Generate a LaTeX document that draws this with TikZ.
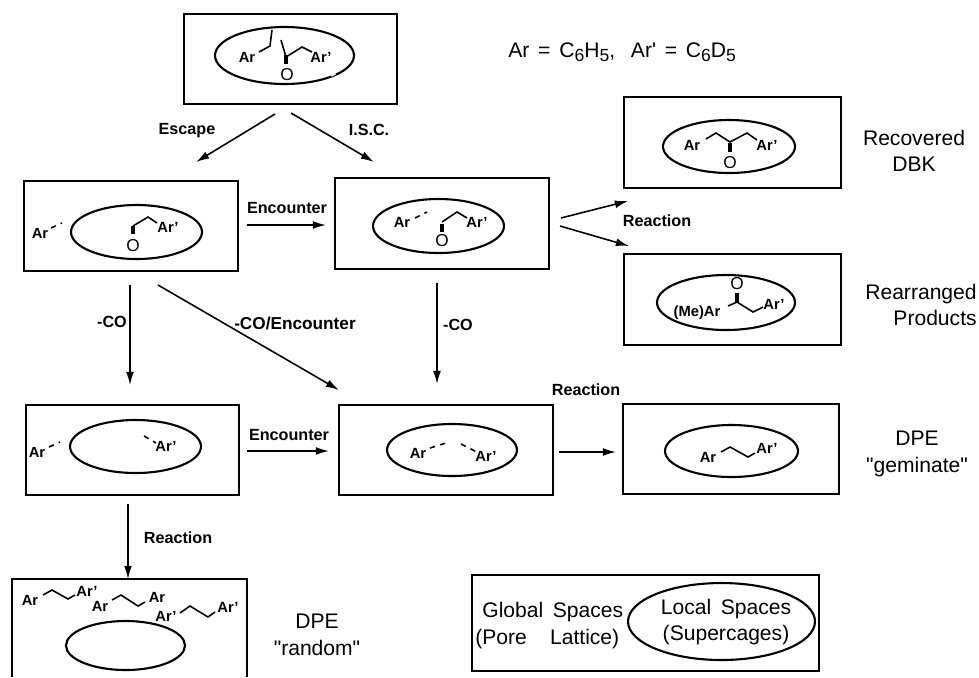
\documentclass[tikz,border=0pt]{standalone}
\usepackage{fontspec}
\setmainfont{Liberation Sans}
\newfontfamily\plainfont{Liberation Sans}
\usetikzlibrary{arrows.meta,shapes.geometric}
\newcommand{\lowdig}[1]{\raisebox{-2.5pt}{\fontsize{10}{10}\selectfont #1}}
\newcommand{\eqsign}{\hspace{5pt}=\hspace{5pt}}
\tikzset{
  cell/.style={draw,line width=1.2pt,inner sep=0pt,outer sep=0pt},
  cage/.style={draw,ellipse,line width=1.2pt,inner sep=0pt,outer sep=0pt},
  flow/.style={-{Latex[length=7.5pt,width=4.5pt]},line width=.9pt},
  bond/.style={line width=.9pt},
  keto/.style={line width=2pt},
  ar/.style={inner sep=0pt,font=\fontsize{8.4}{10}\selectfont\bfseries},
  oxy/.style={inner sep=0pt,font=\fontsize{9.8}{10}\selectfont},
  lbl/.style={inner sep=0pt,font=\fontsize{9.2}{11}\selectfont\bfseries},
  tag/.style={inner sep=0pt,align=center,font=\fontsize{12}{15}\plainfont}
}
\begin{document}
\begin{tikzpicture}[x=.02cm,y=-.02cm]

\useasboundingbox (0,0) rectangle (979,677);

\node[cell,minimum width=4.26cm,minimum height=1.8cm] (top) at (290.5,59) {};
\node[cell,minimum width=4.28cm,minimum height=1.8cm] (esc) at (131,226) {};
\node[cell,minimum width=4.28cm,minimum height=1.82cm] (isc) at (442,223.5) {};
\node[cell,minimum width=4.34cm,minimum height=1.82cm] (rec) at (732.5,142.5) {};
\node[cell,minimum width=4.34cm,minimum height=1.82cm] (rea) at (732.5,299.5) {};
\node[cell,minimum width=4.26cm,minimum height=1.8cm] (lft) at (132.5,450) {};
\node[cell,minimum width=4.28cm,minimum height=1.8cm] (mid) at (446,450) {};
\node[cell,minimum width=4.32cm,minimum height=1.8cm] (gem) at (731,449) {};
\node[inner sep=0pt,outer sep=0pt,minimum width=4.7cm,minimum height=1.96cm] (rnd) at (129.5,628) {};
\node[cell,minimum width=6.94cm,minimum height=1.92cm] (leg) at (645.5,623) {};
\draw[line width=1.2pt] (rnd.south west) |- (rnd.north east) -- (rnd.south east);

\node[cage,minimum width=2.78cm,minimum height=1.14cm] (topcage) at (284.5,55.5) {};
\node[cage,minimum width=2.62cm,minimum height=1.08cm] (esccage) at (136.5,232) {};
\node[cage,minimum width=2.62cm,minimum height=1.08cm] (isccage) at (438.5,226) {};
\node[cage,minimum width=2.64cm,minimum height=1.06cm] (reccage) at (729,146.5) {};
\node[cage,minimum width=2.76cm,minimum height=1.1cm] (reacage) at (726,302.5) {};
\node[cage,minimum width=2.62cm,minimum height=1.06cm] (lftcage) at (135.5,446.5) {};
\node[cage,minimum width=2.6cm,minimum height=1.04cm] (midcage) at (452,450) {};
\node[cage,minimum width=2.66cm,minimum height=1.04cm] (gemcage) at (731.5,451) {};
\node[cage,minimum width=2.38cm,minimum height=.98cm] (rndcage) at (125.5,645.5) {};
\node[cage,minimum width=3.74cm,minimum height=1.54cm] (legcage) at (721.5,621.5) {};
\draw[white,line width=2pt] (331,75)--(335,73);

\draw[flow] ([shift={(-15.5,10)}]top.south)--([shift={(65,-19)}]esc.north);
\draw[flow] ([shift={(.5,9)}]top.south)--([shift={(-68,-16)}]isc.north);
\draw[flow] ([shift={(9,-1)}]esc.east)--([shift={(-9,1.5)}]isc.west);
\draw[flow] ([shift={(12,-5.5)}]isc.east)--([shift={(-104.5,13)}]rec.south);
\draw[flow] ([shift={(11,2.5)}]isc.east)--([shift={(-103.5,-8)}]rea.north);
\draw[flow] ([shift={(-1,14)}]esc.south)--([shift={(-2.5,-20)}]lft.north);
\draw[flow] ([shift={(27,14)}]esc.south)--([shift={(-107,-15)}]mid.north);
\draw[flow] ([shift={(-5,14)}]isc.south)--([shift={(-9,-21)}]mid.north);
\draw[flow] ([shift={(8,1)}]lft.east)--([shift={(-10,1)}]mid.west);
\draw[flow] ([shift={(6,2)}]mid.east)--([shift={(-7,3)}]gem.west);
\draw[flow] ([shift={(-4.5,9)}]lft.south)--([shift={(-1.5,0)}]rnd.north);

\node[lbl] (lblesc) at (187,131) {Escape};
\node[lbl] (lblisc) at (369,130) {I.S.C.};
\node[lbl] (lblenc) at (287,208) {Encounter};
\node[lbl] (lblco) at (112,322) {-CO};
\node[lbl,font=\fontsize{9.8}{11}\selectfont\bfseries] (lblcoenc) at (295,323) {-CO/Encounter};
\node[lbl] (lblcoisc) at (458,325) {-CO};
\node[lbl] (lblreac) at (657,221) {Reaction};
\node[lbl] (lblgem) at (586,390) {Reaction};
\node[lbl] (lblmeet) at (289,435) {Encounter};
\node[lbl] (lblrnd) at (178,538) {Reaction};

\node[tag,anchor=west] (def) at (508,52) {Ar\eqsign C\lowdig{6}H\lowdig{5},\hspace{9pt}Ar'\eqsign C\lowdig{6}D\lowdig{5}};
\node[tag] (tagrec) at (914,151) {Recovered\\DBK};
\node[tag,align=right,anchor=east] (tagrea) at (977,305) {Rearranged\\Products};
\node[tag] (taggem) at (917,454) {DPE\\"geminate"};
\node[tag] (tagrnd) at (317,635) {DPE\\"random"};
\node[tag,align=left,anchor=west] (global) at (475,625.5) {\hspace*{4pt}Global\hspace{.45em}Spaces\\(Pore\hspace{1.1em}Lattice)};
\node[tag] (local) at (726,622) {Local\hspace{.45em}Spaces\\(Supercages)};

\node[ar] (a1) at (247,57) {Ar};
\node[ar] (b1) at (321,57) {Ar'};
\node[oxy] (o1) at (287,75) {O};
\draw[bond] (259,52)--(270,46)--(272,30);
\draw[bond] (281,40)--(286,57)--(302,47)--(312,52);
\draw[keto] (286,55)--(286,64);

\node[ar] (a2) at (40,233) {Ar};
\node[ar] (b2) at (168,227) {Ar'};
\node[oxy] (o2) at (133,246) {O};
\draw[bond,dashed] (51,228)--(62,223);
\draw[bond] (133,226)--(148,217)--(157,223);
\draw[keto] (133,226)--(133,234);

\node[ar] (a3) at (402,222) {Ar};
\node[ar] (b3) at (477,222) {Ar'};
\node[oxy] (o3) at (442,241) {O};
\draw[bond,dashed] (415,218)--(427,212);
\draw[bond] (442,222)--(457,212)--(467,218);
\draw[keto] (442,224)--(442,232);

\node[ar] (a4) at (692,145) {Ar};
\node[ar] (b4) at (767,145) {Ar'};
\node[oxy] (o4) at (730,163) {O};
\draw[bond] (706,139)--(716,133)--(730,142)--(747,133)--(757,140);
\draw[keto] (730,143)--(730,152);

\node[ar] (a5) at (697,313) {(Me)Ar};
\node[ar] (b5) at (774,304) {Ar'};
\node[oxy] (o5) at (737,284) {O};
\draw[bond] (728,306)--(737,302)--(753,312)--(763,307);
\draw[keto] (737,293)--(737,302);

\node[ar] (a6) at (37,452) {Ar};
\node[ar] (b6) at (166,446) {Ar'};
\draw[bond,dashed] (49,447)--(60,442);
\draw[bond,dashed] (144,436)--(156,443);

\node[ar] (a7) at (418,453) {Ar};
\node[ar] (b7) at (486,456) {Ar'};
\draw[bond,dashed] (430,448)--(446,443);
\draw[bond,dashed] (461,444)--(477,452);

\node[ar] (a8) at (708,457) {Ar};
\node[ar] (b8) at (767,448) {Ar'};
\draw[bond] (721,452)--(730,447)--(748,457)--(755,453);

\node[ar] (a9) at (30,600) {Ar};
\node[ar] (b9) at (87,591) {Ar'};
\draw[bond] (43,595)--(52,590)--(68,599)--(75,595);
\node[ar] (a10) at (100,606) {Ar};
\node[ar] (b10) at (157,597) {Ar};
\draw[bond] (112,600)--(121,595)--(138,606)--(145,602);
\node[ar] (a11) at (166,616) {Ar'};
\node[ar] (b11) at (228,607) {Ar'};
\draw[bond] (180,613)--(190,606)--(208,617)--(215,612);

\end{tikzpicture}
\end{document}
